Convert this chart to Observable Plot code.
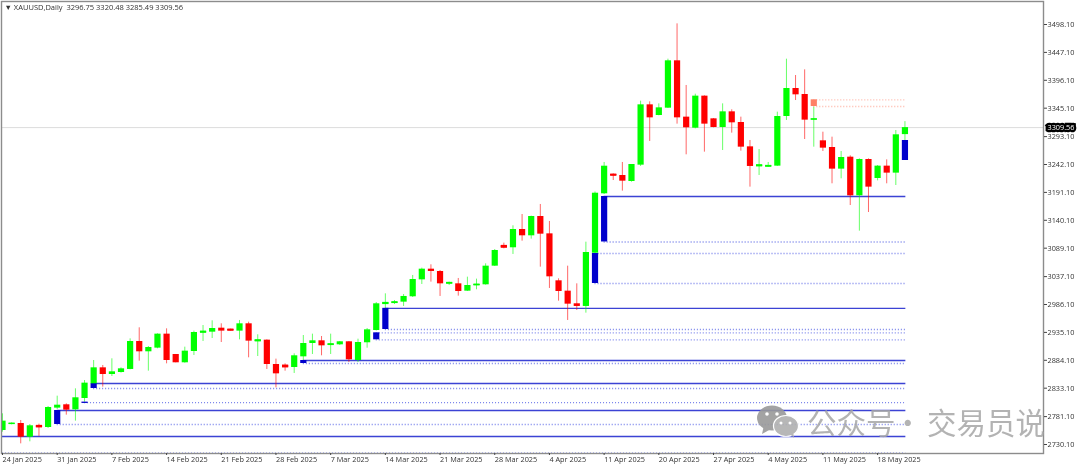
<!DOCTYPE html>
<html><head><meta charset="utf-8">
<script src="https://cdn.jsdelivr.net/npm/d3@7"></script>
<script src="https://cdn.jsdelivr.net/npm/@observablehq/plot@0.6"></script>
<style>
html,body{margin:0;padding:0;background:#fff;overflow:hidden}
#wrap{position:relative;width:1080px;height:467px}
#wrap svg.chart{filter:blur(0.3px)}
.wm{position:absolute;top:400px;font:29.5px "Noto Sans CJK SC";color:#a6a6a6;opacity:.85;white-space:pre;line-height:42px}
#wmi{position:absolute;left:757px;top:405px;opacity:.9}
</style></head><body><div id="wrap"></div>
<script>
const opens=[2755.7,2767.3,2768.5,2743.5,2764.3,2761.2,2796.6,2802.7,2793.5,2814.2,
2841.1,2870.3,2858.1,2861.8,2867.3,2918.5,2899.6,2906.3,2931.9,2894.7,
2879.5,2900.2,2934.3,2935.5,2942.8,2940.4,2937.4,2950.8,2918.5,2920.9,
2876.4,2874.6,2870.9,2890.4,2914.8,2919.7,2911.8,2912.4,2917.9,2883.7,
2916.1,2938.5,2986.7,2988.6,2990.4,3000.2,3031.2,3050.7,3046.5,3023.9,
3023.9,3010.5,3020.9,3022.1,3056.2,3093.4,3089.8,3123.3,3111.7,3147.0,
3115.3,3029.4,3010.5,2987.4,2982.5,3079.9,3188.5,3223.8,3222.0,3211.0,
3240.9,3351.2,3331.7,3345.1,3431.7,3328.7,3308.5,3367.1,3325.6,3309.8,
3338.4,3318.9,3274.4,3238.5,3237.8,3239.1,3329.9,3381.1,3370.1,3323.8,
3285.4,3273.2,3233.6,3255.5,3184.8,3251.3,3216.5,3239.1,3226.3,3296.75];
const closes=[2772.8,2768.5,2743.5,2764.3,2761.2,2797.8,2802.0,2792.9,2815.5,2842.3,
2870.3,2858.1,2863.0,2868.5,2918.5,2899.6,2907.5,2931.9,2883.7,2879.5,
2900.8,2934.9,2936.7,2942.2,2937.4,2938.0,2950.8,2919.1,2920.9,2876.4,
2859.3,2870.9,2892.3,2914.8,2919.7,2910.5,2913.6,2917.9,2885.0,2916.6,
2939.8,2987.4,2989.2,2990.4,3000.8,3031.8,3050.7,3046.5,3023.9,3025.8,
3009.9,3020.9,3022.7,3056.2,3084.9,3089.8,3123.3,3111.7,3147.0,3114.7,
3036.7,3009.9,2986.7,2982.5,3081.2,3189.6,3239.0,3221.4,3211.6,3242.1,
3351.2,3327.4,3345.7,3431.7,3327.4,3309.2,3367.1,3315.9,3309.8,3338.4,
3318.3,3273.8,3238.5,3240.9,3239.7,3329.9,3381.1,3369.5,3323.2,3325.0,
3272.0,3233.6,3254.9,3184.8,3251.3,3200.7,3239.1,3226.3,3296.4,3309.56];
const highs=[2786.2,2769.7,2774.0,2766.7,2767.3,2799.6,2818.5,2804.5,2831.9,2847.1,
2883.7,2874.6,2886.8,2870.3,2923.3,2943.5,2909.3,2932.5,2941.6,2894.7,
2908.1,2937.4,2947.7,2956.3,2950.8,2941.0,2956.9,2953.8,2930.7,2921.5,
2886.2,2877.6,2895.9,2929.4,2931.9,2927.6,2931.9,2918.5,2918.5,2922.7,
2942.2,2989.7,3005.6,2993.4,3004.4,3039.2,3052.6,3058.7,3048.3,3027.0,
3033.7,3036.1,3032.5,3060.5,3086.7,3098.3,3130.0,3150.7,3147.7,3169.0,
3137.9,3033.1,3056.2,3023.9,3100.1,3191.8,3245.8,3225.0,3245.8,3242.1,
3357.9,3356.7,3353.0,3434.7,3499.3,3386.6,3370.7,3367.7,3326.2,3353.0,
3342.1,3328.7,3286.0,3269.5,3245.8,3337.8,3434.7,3404.8,3415.2,3346.9,
3301.2,3292.1,3265.9,3258.0,3252.5,3252.5,3240.3,3250.6,3304.3,3320.48];
const lows=[2752.7,2766.1,2731.3,2735.0,2744.8,2759.4,2794.1,2783.8,2772.8,2807.5,
2835.0,2835.0,2854.5,2860.6,2866.7,2882.5,2864.2,2905.1,2877.6,2879.5,
2878.8,2892.9,2918.5,2923.9,2916.6,2937.4,2921.5,2888.6,2891.0,2867.3,
2833.7,2864.2,2860.0,2883.7,2894.7,2892.3,2894.7,2911.1,2880.1,2880.1,
2906.2,2937.6,2978.2,2986.1,2982.5,2998.9,3022.7,3027.0,3000.8,3020.9,
3001.4,3009.9,3013.0,3021.5,3055.6,3087.9,3077.6,3101.9,3105.6,3054.4,
3015.4,2992.2,2956.9,2975.2,2970.3,3078.0,3187.2,3212.8,3193.4,3209.8,
3238.5,3284.2,3331.1,3344.5,3315.9,3259.8,3307.3,3264.7,3309.2,3267.7,
3299.4,3266.5,3200.7,3222.0,3237.2,3238.5,3322.6,3359.1,3287.8,3273.8,
3265.9,3206.8,3215.9,3167.1,3120.2,3154.3,3212.2,3206.8,3203.7,3285.49];

const priceTicks=[3498.10,3447.10,3396.10,3345.10,3293.10,3242.10,3191.10,3140.10,3089.10,3037.10,2986.10,2935.10,2884.10,2833.10,2781.10,2730.10];
const dateLabels=["24 Jan 2025","31 Jan 2025","7 Feb 2025","14 Feb 2025","21 Feb 2025","28 Feb 2025","7 Mar 2025","14 Mar 2025","21 Mar 2025","28 Mar 2025","4 Apr 2025","11 Apr 2025","20 Apr 2025","27 Apr 2025","4 May 2025","11 May 2025","18 May 2025"];
const barsPerLabel=6;
const lastPrice=3309.56;
const lastIndex=99;

const solidLevels=[[3183.6,66],[2979.1,42],[2883.7,33],[2841.6,10],[2792.3,6],[2744.7,0]];
const dottedLevels=[[3100.4,66],[3079.4,65],[3024.5,65],[2940.4,42],[2934.3,41],[2921.5,41],[2878.2,33],[2832.5,10],[2806.7,9],[2766.7,6],[2714.4,0]];
const zones=[[6,2792.3,2766.7],[9,2807.6,2805.2],[10,2841.6,2832.5],[33,2883.7,2878.2],[41,2934.3,2921.5],[42,2979.1,2940.4],[65,3079.4,3024.5],[66,3183.6,3100.4],[99,3286.0,3249.4]];
const salmonZone=[89,3360.4,3348.2];

const candles=opens.map((o,i)=>({i,o,c:closes[i],h:highs[i],l:lows[i]}));
const green="#00ff00",red="#ff0000",blue="#0000cc";
const colorOf=d=>d.c>=d.o?green:red;
const bodyW=6.2;

const chart=Plot.plot({
  width:1080,height:467,marginLeft:1,marginRight:37,marginTop:1,marginBottom:14,
  style:{fontFamily:"'Open Sans'",fontSize:"7.3px",background:"#fff",color:"#333"},
  x:{domain:[0,114.2],range:[2,1043],axis:null},
  y:{domain:[2730.1,3498.1],range:[444,24],axis:null},
  marks:[
    Plot.ruleY([lastPrice],{stroke:"#dcdcdc",strokeWidth:1}),
    Plot.ruleY(solidLevels,{y:d=>d[0],x1:d=>d[1],x2:lastIndex+0.1,stroke:"#1a22cc",strokeOpacity:.85,strokeWidth:1.3,clip:true}),
    Plot.ruleY(dottedLevels,{y:d=>d[0],x1:d=>d[1],x2:lastIndex+0.1,stroke:"#2030dd",strokeOpacity:.6,strokeWidth:1.3,strokeDasharray:"1,2",clip:true}),
    Plot.ruleY([salmonZone[1],salmonZone[2]],{x1:salmonZone[0],x2:lastIndex,stroke:"#ff7a60",strokeOpacity:.55,strokeWidth:1.3,strokeDasharray:"1,2"}),
    Plot.ruleX(candles,{x:"i",y1:"l",y2:"h",stroke:colorOf,strokeOpacity:.6,strokeWidth:1,clip:true}),
    Plot.ruleX(zones,{x:d=>d[0],y1:d=>d[1],y2:d=>d[2],stroke:blue,strokeWidth:bodyW}),
    Plot.ruleX([salmonZone],{x:d=>d[0],y1:d=>d[1],y2:d=>d[2],stroke:"#ff8066",strokeWidth:bodyW}),
    Plot.ruleX(candles,{x:"i",y1:d=>Math.min(d.o,d.c),y2:d=>Math.max(d.o,d.c),stroke:colorOf,strokeWidth:bodyW,clip:true}),
    Plot.ruleX(candles.filter(d=>Math.abs(d.o-d.c)<4),{x:"i",y1:d=>Math.min(d.o,d.c)-0.8,y2:d=>Math.max(d.o,d.c)+0.8,stroke:colorOf,strokeWidth:bodyW,clip:true}),
    Plot.frame({stroke:"#8c8c8c",strokeWidth:1.4}),
    Plot.axisY({anchor:"right",ticks:priceTicks,tickFormat:d=>d.toFixed(2),tickSize:3,tickPadding:1,label:null,stroke:"#444",fill:"#333",fontSize:7.3}),
    Plot.axisX({anchor:"bottom",ticks:dateLabels.map((_,k)=>k*barsPerLabel),tickFormat:d=>dateLabels[d/barsPerLabel],tickSize:2,tickPadding:1,textAnchor:"start",label:null,stroke:"#444",fill:"#333",fontSize:7.3}),
    Plot.text([lastPrice],{y:d=>d,frameAnchor:"right",textAnchor:"start",dx:4,text:d=>d.toFixed(2),fill:"#fff",stroke:"#000",strokeWidth:4.5,strokeLinejoin:"miter",fontSize:7.3}),
    Plot.text(["▼ XAUUSD,Daily  3296.75 3320.48 3285.49 3309.56"],{text:d=>d,frameAnchor:"top-left",dx:3,dy:3,fill:"#333",fontSize:7.5,lineAnchor:"top"})
  ]
});
chart.classList.add("chart");
const wrap=document.getElementById("wrap");
wrap.append(chart);
[["公众号",807],["·",893],["交易员说",927]].forEach(([t,l])=>{
  const e=document.createElement("div");e.className="wm";e.textContent=t;e.style.left=l+"px";wrap.append(e);
});
const wi=document.createElement("div");wi.id="wmi";
wi.innerHTML=`<svg width="42" height="34" viewBox="0 0 42 34"><g fill="#9a9a9a"><ellipse cx="15" cy="13" rx="15" ry="12.5"/><path d="M7 20 L5 29 L14 24Z"/></g><g fill="#b0b0b0" stroke="#fff" stroke-width="1.2"><ellipse cx="29" cy="21" rx="12.5" ry="10.5"/></g><path d="M33 29 L37 33 L36 26Z" fill="#b0b0b0"/><g fill="#fff"><circle cx="10" cy="9" r="1.8"/><circle cx="20" cy="9" r="1.8"/><circle cx="24" cy="18" r="1.5"/><circle cx="33" cy="18" r="1.5"/></g></svg>`;
wrap.append(wi);
</script></body></html>
